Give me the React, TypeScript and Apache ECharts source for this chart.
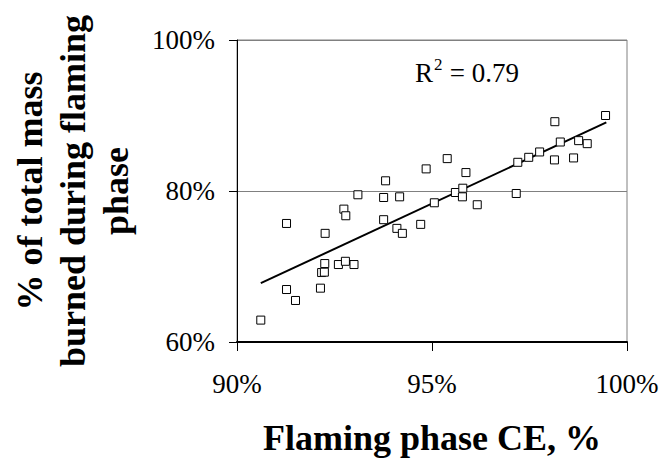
import React, { useEffect, useRef } from "react";
import * as echarts from "echarts";

// Flaming phase combustion efficiency (%) and % of mass burned during flaming phase
const ceValues = [
  90.61, 91.27, 91.27, 91.5, 92.26, 92.25, 92.17, 92.24, 92.14, 92.6, 92.78,
  93.0, 92.74, 92.79, 93.1, 93.81, 93.76, 94.17, 93.76, 94.1, 94.24, 94.71,
  94.85, 95.39, 95.06, 95.6, 95.79, 95.78, 95.87, 96.16, 97.16, 97.2, 97.48,
  97.76, 98.15, 98.14, 98.29, 98.63, 98.76, 98.98, 99.45,
];
const flamingMassValues = [
  62.9, 75.7, 66.95, 65.5, 74.39, 70.39, 69.2, 69.25, 67.13, 70.26, 70.69,
  70.26, 77.6, 76.72, 79.5, 81.35, 79.14, 79.23, 76.2, 75.05, 74.39, 75.58,
  82.93, 84.29, 78.44, 79.8, 80.37, 79.23, 82.44, 78.18, 79.67, 83.8, 84.46,
  85.17, 89.18, 84.12, 86.49, 84.38, 86.67, 86.27, 90.0,
];
// Linear trend line end points as drawn
const trendX = [90.61, 99.47];
const trendY = [67.79, 89.08];
const rSquaredLabel = "0.79";

const serif = "Liberation Serif";

export default function App() {
  const ref = useRef<HTMLDivElement>(null);
  useEffect(() => {
    if (!ref.current) return;
    const chart = echarts.init(ref.current, null, { renderer: "svg" });
    const points = ceValues.map((x, i) => [x, flamingMassValues[i]]);
    const trend = trendX.map((x, i) => [x, trendY[i]]);
    chart.setOption({
      animation: false,
      backgroundColor: "#ffffff",
      grid: {
        left: 232,
        right: 36,
        top: 40,
        bottom: 118,
        show: true,
        borderColor: "#808080",
        borderWidth: 1,
      },
      xAxis: {
        type: "value",
        min: 90,
        max: 100,
        interval: 5,
        name: "Flaming phase CE, %",
        nameLocation: "middle",
        nameGap: 78,
        nameTextStyle: {
          fontFamily: serif,
          fontWeight: "bold",
          fontSize: 36,
          color: "#000",
        },
        axisLine: { show: true, lineStyle: { color: "#000", width: 2 } },
        axisTick: { show: true, length: 9, lineStyle: { color: "#000", width: 1 } },
        axisLabel: {
          formatter: (v: number) => `${v}%`,
          fontFamily: serif,
          fontSize: 27,
          color: "#000",
          margin: 28,
        },
        splitLine: { show: false },
      },
      yAxis: {
        type: "value",
        min: 60,
        max: 100,
        interval: 20,
        name: "% of total mass\nburned during flaming\nphase",
        nameLocation: "middle",
        nameRotate: 90,
        nameGap: 100,
        nameTextStyle: {
          fontFamily: serif,
          fontWeight: "bold",
          fontSize: 36,
          lineHeight: 43,
          color: "#000",
        },
        axisLine: { show: true, lineStyle: { color: "#000", width: 1 } },
        axisTick: { show: true, length: 8, lineStyle: { color: "#000", width: 1 } },
        axisLabel: {
          formatter: (v: number) => `${v}%`,
          fontFamily: serif,
          fontSize: 27,
          color: "#000",
          margin: 22,
        },
        splitLine: { show: true, lineStyle: { color: "#808080", width: 1 } },
      },
      series: [
        {
          type: "scatter",
          data: points,
          symbol: "rect",
          symbolSize: 8,
          itemStyle: { color: "#ffffff", borderColor: "#000", borderWidth: 1, opacity: 1 },
          z: 3,
        },
        {
          type: "line",
          data: trend,
          symbol: "none",
          lineStyle: { color: "#000", width: 2 },
          z: 2,
        },
      ],
      graphic: [
        {
          type: "text",
          x: 415,
          y: 73,
          style: {
            text: "R",
            fontFamily: serif,
            fontSize: 27,
            fill: "#000",
            textVerticalAlign: "middle",
          },
        },
        {
          type: "text",
          x: 434,
          y: 64,
          style: {
            text: "2",
            fontFamily: serif,
            fontSize: 17,
            fill: "#000",
            textVerticalAlign: "middle",
          },
        },
        {
          type: "text",
          x: 443,
          y: 73,
          style: {
            text: ` = ${rSquaredLabel}`,
            fontFamily: serif,
            fontSize: 27,
            fill: "#000",
            textVerticalAlign: "middle",
          },
        },
      ],
    });
    return () => chart.dispose();
  }, []);
  return <div ref={ref} style={{ width: 663, height: 461, position: "absolute", left: 0, top: 0 }} />;
}
